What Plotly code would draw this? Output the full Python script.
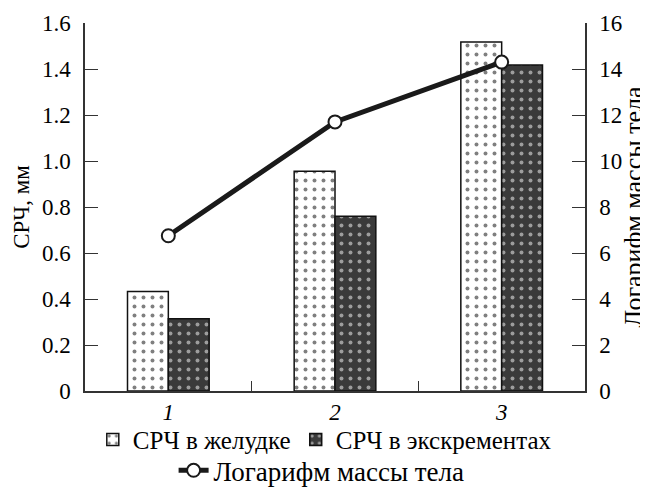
import plotly.graph_objects as go

categories = ["1", "2", "3"]
stomach = [0.433, 0.955, 1.517]
feces = [0.314, 0.76, 1.417]
log_mass = [6.75, 11.7, 14.3]

serif = "'Liberation Serif', 'DejaVu Serif', serif"
fig = go.Figure()
fig.add_trace(go.Bar(
    x=categories, y=stomach, name="СРЧ в желудке",
    marker=dict(color="white", line=dict(color="#111", width=1.5),
                pattern=dict(shape=".", fgcolor="black", bgcolor="white", size=9, solidity=0.15)),
    legend="legend"))
fig.add_trace(go.Bar(
    x=categories, y=feces, name="СРЧ в экскрементах",
    marker=dict(color="#3a3a3a", line=dict(color="#111", width=1.5),
                pattern=dict(shape=".", fgcolor="white", bgcolor="#3a3a3a", size=9, solidity=0.15)),
    legend="legend"))
fig.add_trace(go.Scatter(
    x=categories, y=log_mass, name="Логарифм массы тела", yaxis="y2",
    mode="lines+markers",
    line=dict(color="#1a1a1a", width=5),
    marker=dict(size=13, color="white", line=dict(color="#1a1a1a", width=2)),
    legend="legend2"))

fig.update_layout(
    width=640, height=482,
    margin=dict(l=77, r=63, t=15, b=99),
    paper_bgcolor="white", plot_bgcolor="white",
    font=dict(family=serif, size=22, color="black"),
    barmode="group", bargap=0.51, bargroupgap=0,
    showlegend=True,
    xaxis=dict(type="category", tickson="boundaries", ticks="inside", ticklen=10,
               tickcolor="#333", showline=True, linecolor="#333", linewidth=1.5,
               tickfont=dict(family=serif, size=23, style="italic"), showgrid=False,
               automargin=False),
    yaxis=dict(range=[0, 1.6], ticks="inside", ticklen=13,
               tickcolor="#333", showline=True, linecolor="#333", linewidth=1.5,
               showgrid=False, zeroline=False, automargin=False,
               tickfont=dict(family=serif, size=23), ticklabelstandoff=8,
               title=dict(text="СРЧ, мм", font=dict(family=serif, size=23), standoff=6),
               tickvals=[0, 0.2, 0.4, 0.6, 0.8, 1.0, 1.2, 1.4, 1.6],
               ticktext=["0", "0.2", "0.4", "0.6", "0.8", "1.0", "1.2", "1.4", "1.6"]),
    yaxis3=dict(range=[0, 1.6], overlaying="y", tickvals=[0.2, 0.4, 0.6, 0.8, 1.0, 1.2, 1.4],
                showticklabels=False, ticks="", showline=False, zeroline=False,
                showgrid=True, gridcolor="#dcdcdc", gridwidth=1.5, automargin=False),
    yaxis2=dict(range=[0, 16], dtick=2, overlaying="y", side="right", ticks="inside",
                ticklen=13, tickcolor="#333", showline=True, linecolor="#333", linewidth=1.5,
                showgrid=False, zeroline=False, tickfont=dict(family=serif, size=23),
                ticklabelstandoff=8, automargin=False,
                title=dict(text="Логарифм массы тела", font=dict(family=serif, size=26), standoff=3)),
    legend=dict(orientation="h", x=0.495, xanchor="center", xref="container",
                y=0.104, yanchor="middle", yref="container",
                font=dict(family=serif, size=25), bgcolor="rgba(0,0,0,0)", itemwidth=30),
    legend2=dict(orientation="h", x=0.49, xanchor="center", xref="container",
                 y=0.04, yanchor="middle", yref="container",
                 font=dict(family=serif, size=27), bgcolor="rgba(0,0,0,0)", itemwidth=30),
)

fig.write_html("out.html")
